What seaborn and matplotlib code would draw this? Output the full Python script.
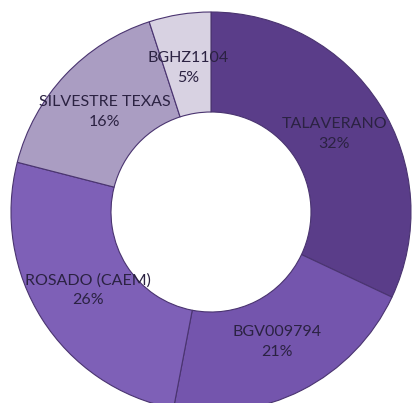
import matplotlib
matplotlib.use("Agg")
import matplotlib.pyplot as plt
import seaborn as sns
import numpy as np

# Share of each variety (percent)
varieties = ["TALAVERANO", "BGV009794", "ROSADO (CAEM)", "SILVESTRE TEXAS", "BGHZ1104"]
shares = [32, 21, 26, 16, 5]
colors = ["#5a3d89", "#7455ad", "#7e60b7", "#aa9dc2", "#d8d2e2"]

sns.set_theme(style="white")
plt.rcParams["font.family"] = ["Lato", "DejaVu Sans"]

fig = plt.figure(figsize=(4.14, 4.03), dpi=100)
ax = fig.add_axes([0, 0, 1, 1])

wedges, _ = ax.pie(
    shares,
    colors=sns.color_palette(colors),
    startangle=90,
    counterclock=False,
    radius=1.0,
    wedgeprops=dict(width=0.5, edgecolor="#4a3470", linewidth=0.8),
)

# Name and percentage inside each ring segment
for w, name, val in zip(wedges, varieties, shares):
    ang = np.deg2rad((w.theta1 + w.theta2) / 2)
    r = 0.73
    ax.text(r * np.cos(ang), r * np.sin(ang), f"{name}\n{val}%",
            ha="center", va="center", fontsize=11.5, color="#2b2242",
            linespacing=1.5)

ax.set_xlim(-1.055, 1.015)
ax.set_ylim(-0.955, 1.06)
ax.set_aspect("auto")
ax.axis("off")

fig.savefig("out.png", dpi=100)
